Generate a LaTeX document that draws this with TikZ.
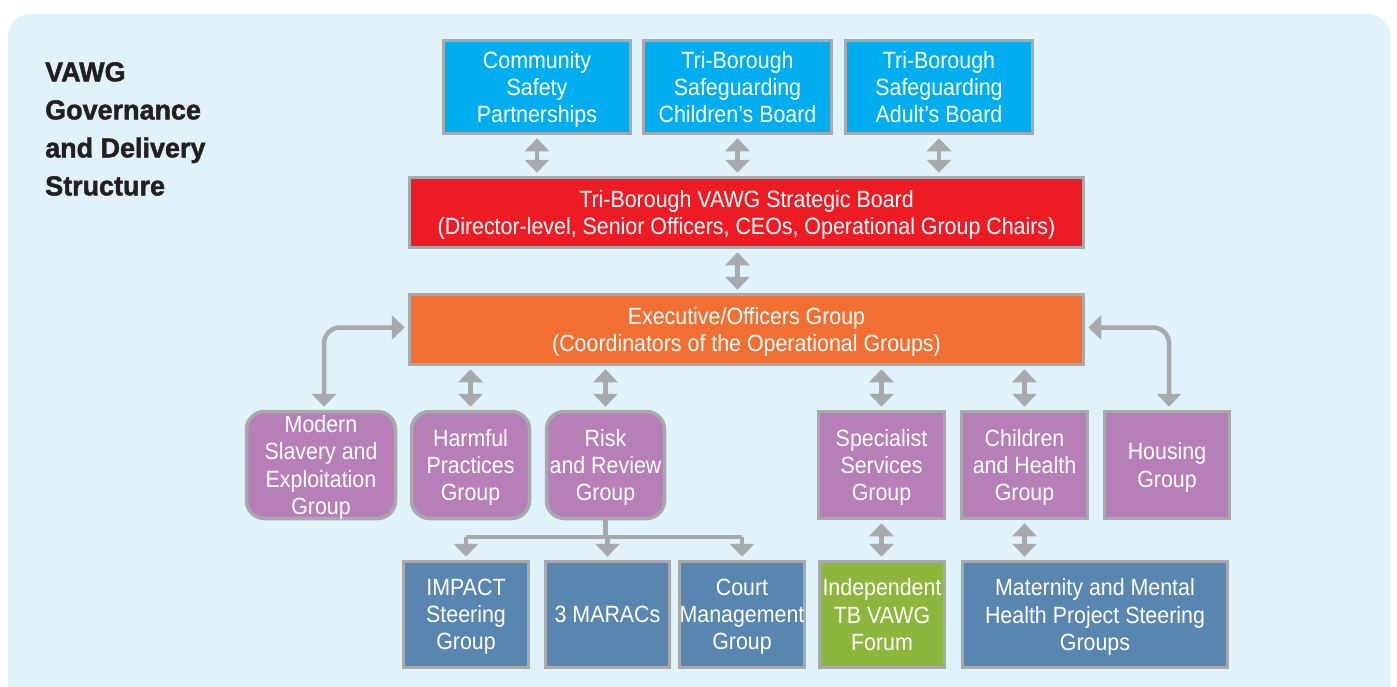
\documentclass[tikz,border=0pt]{standalone}
\usepackage{fontspec}
\setmainfont{Liberation Sans}
\newfontfamily\boxfamily{Liberation Sans}[FakeStretch=0.91]
\newfontfamily\titlefamily{Liberation Sans Bold}[FakeStretch=0.98,FakeBold=1.6]
\usetikzlibrary{arrows.meta}
\definecolor{bgblue}{HTML}{E0F2FA}
\definecolor{edgegray}{HTML}{A7A9AC}
\definecolor{cyanbox}{HTML}{00AEEF}
\definecolor{redbox}{HTML}{ED1C24}
\definecolor{orangebox}{HTML}{F26F33}
\definecolor{purplebox}{HTML}{B77FB8}
\definecolor{steelbox}{HTML}{5886B0}
\definecolor{greenbox}{HTML}{8DB63C}
\definecolor{titletext}{HTML}{231F20}
\begin{document}
\begin{tikzpicture}[x=1pt,y=-1pt,
  box/.style={draw=edgegray, line width=3.5pt, text=white, align=center,
    inner sep=0pt, text depth=0pt, font=\boxfamily\fontsize{23.5}{27.2}\selectfont},
  rbox/.style={box, rounded corners=18pt},
  tip/.tip={Triangle[width=24pt,length=13pt]},
  dbl/.style={draw=edgegray, line width=4.5pt, {tip}-{tip}, shorten >=3pt, shorten <=3pt},
  one/.style={draw=edgegray, line width=4.5pt, -{tip}, shorten >=3pt},
  lnk/.style={draw=edgegray, line width=4.5pt}
]
\useasboundingbox (0,0) rectangle (1397,686);
\fill[white] (0,0) rectangle (1397,686);
\fill[bgblue, rounded corners=22pt] (8,14) rectangle (1390,720);

\node[anchor=north west, inner sep=0pt, align=left, text=titletext,
  font=\titlefamily\fontsize{27.5}{38}\selectfont] (title) at (45,62)
  {VAWG\\Governance\\and Delivery\\Structure};

% top row
\node[box, fill=cyanbox, minimum width=187, minimum height=93] (csp) at (537,87) {Community\\Safety\\Partnerships};
\node[box, fill=cyanbox, minimum width=188, minimum height=93] (scb) at (737.5,87) {Tri-Borough\\Safeguarding\\Children’s Board};
\node[box, fill=cyanbox, minimum width=187, minimum height=93] (sab) at (939,87) {Tri-Borough\\Safeguarding\\Adult’s Board};

\node[box, fill=redbox, minimum width=674, minimum height=70] (strat) at (746.5,212.5) {Tri-Borough VAWG Strategic Board\\(Director-level, Senior Officers, CEOs, Operational Group Chairs)};
\node[box, fill=orangebox, minimum width=674, minimum height=70] (exec) at (746.5,329.5) {Executive/Officers Group\\(Coordinators of the Operational Groups)};

% operational groups
\node[rbox, fill=purplebox, minimum width=149, minimum height=107] (msg) at (321,465) {Modern\\Slavery and\\Exploitation\\Group};
\node[rbox, fill=purplebox, minimum width=118, minimum height=107] (hpg) at (470.5,465) {Harmful\\Practices\\Group};
\node[rbox, fill=purplebox, minimum width=118, minimum height=107] (rrg) at (605.5,465) {Risk\\and Review\\Group};
\node[box, fill=purplebox, minimum width=126, minimum height=107] (ssg) at (881.5,465) {Specialist\\Services\\Group};
\node[box, fill=purplebox, minimum width=126, minimum height=107] (chg) at (1024.5,465) {Children\\and Health\\Group};
\node[box, fill=purplebox, minimum width=125, minimum height=107] (hsg) at (1167,465) {Housing\\Group};

% bottom row
\node[box, fill=steelbox, minimum width=125, minimum height=106] (imp) at (466,614.5) {IMPACT\\Steering\\Group};
\node[box, fill=steelbox, minimum width=124, minimum height=106] (mar) at (607.5,614.5) {3 MARACs};
\node[box, fill=steelbox, minimum width=125, minimum height=106] (cmg) at (742,614.5) {Court\\Management\\Group};
\node[box, fill=greenbox, minimum width=125, minimum height=106] (itf) at (882,614.5) {Independent\\TB VAWG\\Forum};
\node[box, fill=steelbox, minimum width=265, minimum height=106] (mmh) at (1095,614.5) {Maternity and Mental\\Health Project Steering\\Groups};

% connectors
\draw[dbl] (csp.south) -- (csp.south |- strat.north);
\draw[dbl] (scb.south) -- (scb.south |- strat.north);
\draw[dbl] (sab.south) -- (sab.south |- strat.north);
\draw[dbl] (strat.south -| scb.south) -- (exec.north -| scb.south);

\draw[dbl] (exec.south -| hpg.north) -- (hpg.north);
\draw[dbl] (exec.south -| rrg.north) -- (rrg.north);
\draw[dbl] (exec.south -| ssg.north) -- (ssg.north);
\draw[dbl] (exec.south -| chg.north) -- (chg.north);

\coordinate (mtop) at ([xshift=3pt]msg.north);
\coordinate (htop) at ([xshift=2pt]hsg.north);
\draw[dbl, rounded corners=16pt] (mtop) |- ([yshift=2pt]exec.west);
\draw[dbl, rounded corners=16pt] (htop) |- ([yshift=2pt]exec.east);

\draw[dbl] (ssg.south) -- (ssg.south |- itf.north);
\draw[dbl] (chg.south) -- (chg.south |- mmh.north);

\coordinate (bar) at (605.5,537);
\draw[lnk] (rrg.south) -- (bar);
\draw[lnk] (bar -| imp.north) -- (bar -| cmg.north);
\draw[one] (bar -| imp.north) -- (imp.north);
\draw[one] (bar -| mar.north) -- (mar.north);
\draw[one] (bar -| cmg.north) -- (cmg.north);
\end{tikzpicture}
\end{document}
